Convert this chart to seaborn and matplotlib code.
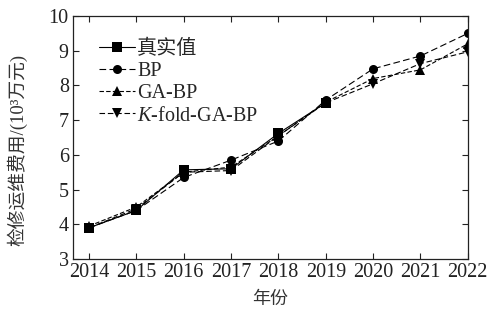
import matplotlib
matplotlib.use("Agg")
import matplotlib.pyplot as plt
import seaborn as sns
import pandas as pd

years = [2014, 2015, 2016, 2017, 2018, 2019, 2020, 2021, 2022]
true_years = [2014, 2015, 2016, 2017, 2018, 2019]
true_vals = [3.90, 4.40, 5.57, 5.60, 6.62, 7.50]
bp_vals = [3.90, 4.40, 5.35, 5.85, 6.40, 7.58, 8.48, 8.85, 9.50]
ga_vals = [3.95, 4.50, 5.50, 5.65, 6.55, 7.52, 8.20, 8.45, 9.20]
kf_vals = [3.90, 4.45, 5.50, 5.55, 6.55, 7.50, 8.05, 8.63, 8.97]
labels = ["真实值", "BP", "GA-BP", "$K$-fold-GA-BP"]

sns.set_theme(style="ticks")
plt.rcParams['font.family'] = ['Liberation Serif', 'Noto Sans CJK SC']
plt.rcParams['mathtext.fontset'] = 'custom'
plt.rcParams['mathtext.it'] = 'Liberation Serif:italic'
plt.rcParams['mathtext.rm'] = 'Liberation Serif'

fig = plt.figure(figsize=(5.03, 3.21), dpi=100)
ax = fig.add_axes([0.145, 0.193, 0.785, 0.757])

series = [
    (true_years, true_vals, labels[0], 's', (None, None)),
    (years, bp_vals, labels[1], 'o', (6, 3)),
    (years, ga_vals, labels[2], '^', (4, 2)),
    (years, kf_vals, labels[3], 'v', (5, 2.5)),
]
for xs, ys, lab, mk, dash in series:
    df = pd.DataFrame({"x": xs, "y": ys})
    sns.lineplot(data=df, x="x", y="y", ax=ax, color="black", marker=mk,
                 markersize=6.5, linewidth=0.8, markeredgewidth=0, label=lab)
    line = ax.lines[-1]
    if dash[0] is not None:
        line.set_dashes(dash)

ax.set_xlim(2013.66, 2022)
ax.set_ylim(3, 10)
ax.set_xticks(years)
ax.set_yticks(range(3, 11))
ax.tick_params(direction='in', top=True, right=True, labeltop=False, labelright=False,
               labelsize=14.5, length=4, width=0.8, pad=3, colors='#222222')
for s in ax.spines.values():
    s.set_linewidth(0.9)
    s.set_color('#222222')

ax.set_xlabel("年份", fontsize=13, labelpad=6, color='#333333')
ax.set_ylabel("检修运维费用/(10³万元)", fontsize=13.5, labelpad=4, color='#333333')
ax.yaxis.set_label_coords(-0.115, 0.45)

leg = ax.legend(loc='upper left', frameon=False, fontsize=14.5, handlelength=1.8,
                handletextpad=0.1, labelspacing=0.15, borderaxespad=0.3,
                bbox_to_anchor=(0.03, 0.96))
for h in leg.get_lines():
    h.set_linewidth(0.8)

fig.savefig("out.png", dpi=100)
